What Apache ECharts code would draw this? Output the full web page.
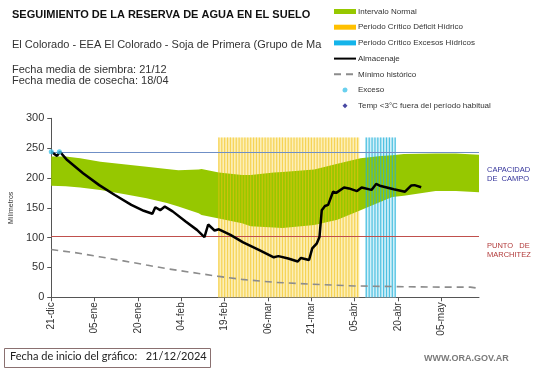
<!DOCTYPE html>
<html>
<head>
<meta charset="utf-8">
<script src="https://cdn.jsdelivr.net/npm/echarts@6/dist/echarts.min.js"></script>
<style>
html,body{margin:0;padding:0;background:#fff;}
#c{width:541px;height:368px;}
</style>
</head>
<body>
<div id="c"></div>
<script>
// ---- DATA ----
const tickDays = [0, 15, 30, 45, 60, 75, 90, 105, 120, 135];
const tickLabels = ['21-dic', '05-ene', '20-ene', '04-feb', '19-feb', '06-mar', '21-mar', '05-abr', '20-abr', '05-may'];
const lastDay = 148;

const bandDays  = [0, 5, 10, 17, 25, 33, 40, 44, 51, 52, 58, 66, 69, 77, 80, 91, 99, 107, 114, 118, 122, 133, 140, 148];
const bandLower = [187, 186, 184, 180, 173, 166, 158, 152, 141, 138, 132, 124, 119, 117, 116, 121, 130, 146, 160, 168, 170, 178, 178, 176];
const bandUpper = [236, 236, 233, 227, 223, 219, 215, 213, 214, 215, 209, 205, 205, 209, 210, 214, 224, 233, 237, 238, 240, 241, 241, 239];

const storageDays   = [0, 2, 3, 5.5, 11, 16.6, 22, 27.7, 32, 35, 36, 37.7, 39.3, 42, 46.5, 50.4, 53, 54.3, 56.5, 58, 62, 66.4, 72, 77, 78.6, 82, 85.3, 86.4, 89.2, 90.3, 91.9, 92.8, 93.6, 94.7, 95.8, 97.5, 98.6, 101.3, 103, 105.8, 107.4, 110.8, 112.4, 114, 118.5, 122.4, 124.6, 125.7, 128];
const storageValues = [244, 237, 244, 230, 208, 188, 171.5, 155, 145, 140, 151, 146, 152, 144, 127, 113, 101, 122, 112, 114, 104.5, 92, 79, 67, 69, 65, 60, 66, 62.5, 82, 90.5, 101, 146, 153, 155, 177, 175, 184, 182.5, 178, 184, 180, 190, 186.5, 181, 177, 187.5, 188, 184.5];

const minDays   = [0, 8, 16.6, 25, 33, 40, 44, 51, 58, 66, 77.5, 90, 105, 118.5, 135, 145, 148];
const minValues = [80, 75, 68, 61, 54, 48, 45, 40, 35, 30, 25, 22, 19, 18, 17, 17, 15];

const deficitDays = [58, 59, 60, 61, 62, 63, 64, 65, 66, 67, 68, 69, 70, 71, 72, 73, 74, 75, 76, 77, 78, 79, 80, 81, 82, 83, 84, 85, 86, 87, 88, 89, 90, 91, 92, 93, 94, 95, 96, 97, 98, 99, 100, 101, 102, 103, 104, 105, 106];
const excessPeriodDays = [109, 110, 111, 112, 113, 114, 115, 116, 117, 118, 119];
const stripeTop = 268;

const excessDays   = [0, 2.8];
const excessValues = [244, 244];
const coldDays = [];
const coldValues = [];

const fieldCapacity = 243;
const wiltingPoint = 103;

// ---- CHART ----
const FONT = 'Liberation Sans, Arial, sans-serif';
const GREEN = '#96c800';
const pair = (xs, ys) => xs.map((x, i) => [x, ys[i]]);

const chart = echarts.init(document.getElementById('c'), null, {renderer: 'canvas'});

const option = {
  animation: false,
  backgroundColor: '#ffffff',
  textStyle: {fontFamily: FONT},
  grid: {left: 33.3, top: 118.3, right: 62, bottom: 70.7, containLabel: false},
  legend: {
    orient: 'vertical',
    left: 333,
    top: 7,
    padding: 0,
    itemWidth: 22,
    itemHeight: 5,
    itemGap: 6.7,
    symbolKeepAspect: true,
    textStyle: {fontSize: 8, color: '#333', fontFamily: FONT, lineHeight: 9, padding: [0, 0, 0, -3]},
    data: [
      {name: 'Intervalo Normal', icon: 'rect', itemStyle: {color: GREEN, opacity: 1}},
      {name: 'Periodo Crítico Déficit Hídrico', icon: 'rect', itemStyle: {color: '#ffc000', opacity: 1}},
      {name: 'Periodo Crítico Excesos Hídricos', icon: 'rect', itemStyle: {color: '#14b4ea', opacity: 1}},
      {name: 'Almacenaje', itemStyle: {opacity: 0}},
      {name: 'Mínimo histórico', itemStyle: {opacity: 0}},
      {name: 'Exceso', icon: 'path://M2,0A2,2,0,1,1,1.99,0Z'},
      {name: 'Temp <3°C fuera del período habitual', icon: 'path://M5,0L10,5L5,10L0,5Z'}
    ]
  },
  xAxis: {
    type: 'value',
    min: 0,
    max: lastDay,
    interval: 15,
    splitLine: {show: false},
    axisLine: {lineStyle: {color: '#555', width: 1}},
    axisTick: {show: true, length: 4, lineStyle: {color: '#555'}, customValues: tickDays},
    axisLabel: {
      customValues: tickDays,
      rotate: 90,
      fontSize: 10,
      color: '#333',
      margin: 5,
      formatter: v => { const i = tickDays.indexOf(v); return i >= 0 ? tickLabels[i] : ''; }
    }
  },
  yAxis: {
    type: 'value',
    min: 0,
    max: 300,
    interval: 50,
    name: 'Milímetros',
    nameLocation: 'middle',
    nameGap: 21,
    nameTextStyle: {fontSize: 7, color: '#333'},
    splitLine: {show: false},
    axisLine: {show: true, lineStyle: {color: '#555', width: 1}},
    axisTick: {show: true, length: 4, lineStyle: {color: '#555'}},
    axisLabel: {fontSize: 11, color: '#333', margin: 7}
  },
  series: [
    {
      name: 'Intervalo Normal',
      type: 'custom',
      itemStyle: {color: GREEN},
      encode: {x: 0, y: [1, 2]},
      data: bandDays.map((d, i) => [d, bandLower[i], bandUpper[i]]),
      z: 2,
      renderItem: function (params, api) {
        if (params.dataIndex !== 0) return;
        const pts = [];
        for (let i = 0; i < bandDays.length; i++) pts.push(api.coord([bandDays[i], bandUpper[i]]));
        for (let i = bandDays.length - 1; i >= 0; i--) pts.push(api.coord([bandDays[i], bandLower[i]]));
        return {type: 'polygon', shape: {points: pts}, style: {fill: GREEN}};
      }
    },
    {
      name: 'Periodo Crítico Déficit Hídrico',
      type: 'bar',
      barWidth: 1.2,
      barGap: '-100%',
      itemStyle: {color: '#f2c010', opacity: 0.6},
      data: deficitDays.map(d => [d, stripeTop]),
      z: 3,
      markArea: {
        silent: true,
        z: 1,
        data: [
          [{coord: [deficitDays[0] - 0.3, 0], itemStyle: {color: '#fcefb8', opacity: 1}}, {coord: [deficitDays[deficitDays.length - 1] + 0.6, stripeTop]}],
          [{coord: [excessPeriodDays[0] - 0.4, 0], itemStyle: {color: '#d2f0f9', opacity: 1}}, {coord: [excessPeriodDays[excessPeriodDays.length - 1] + 0.3, stripeTop]}]
        ]
      }
    },
    {
      name: 'Periodo Crítico Excesos Hídricos',
      type: 'bar',
      barWidth: 1.2,
      barGap: '-100%',
      itemStyle: {color: '#22b0d8', opacity: 0.75},
      data: excessPeriodDays.map(d => [d, stripeTop]),
      z: 3
    },
    {
      name: 'Mínimo histórico',
      type: 'line',
      symbol: 'none',
      lineStyle: {color: '#8c8c8c', width: 1.6, type: [7, 5]},
      itemStyle: {color: '#8c8c8c'},
      data: pair(minDays, minValues),
      z: 4
    },
    {
      name: 'Almacenaje',
      type: 'line',
      symbol: 'none',
      lineStyle: {color: '#000', width: 2.5},
      itemStyle: {color: '#000'},
      data: pair(storageDays, storageValues),
      z: 6,
      markLine: {
        silent: true,
        symbol: 'none',
        z: 5,
        label: {show: false},
        data: [
          {yAxis: fieldCapacity, lineStyle: {color: '#6f8fc6', width: 1.2, type: 'solid'}},
          {yAxis: wiltingPoint, lineStyle: {color: '#c0504d', width: 1.2, type: 'solid'}}
        ]
      }
    },
    {
      name: 'Exceso',
      type: 'scatter',
      symbol: 'circle',
      symbolSize: 5,
      itemStyle: {color: '#44c4ea'},
      data: pair(excessDays, excessValues),
      z: 7
    },
    {
      name: 'Temp <3°C fuera del período habitual',
      type: 'scatter',
      symbol: 'diamond',
      symbolSize: 6,
      itemStyle: {color: '#1a1a8c'},
      data: pair(coldDays, coldValues),
      z: 7
    }
  ],
  graphic: [
    {type: 'text', left: 12, top: 9, style: {text: 'SEGUIMIENTO DE LA RESERVA DE AGUA EN EL SUELO', font: 'bold 11px ' + FONT, fill: '#111'}},
    {type: 'text', left: 12, top: 39, style: {text: 'El Colorado - EEA El Colorado - Soja de Primera (Grupo de Madurez V)', font: '11px ' + FONT, fill: '#333', width: 314, overflow: 'truncate', ellipsis: ''}},
    {type: 'text', left: 12, top: 64, style: {text: 'Fecha media de siembra: 21/12', font: '11px ' + FONT, fill: '#333'}},
    {type: 'text', left: 12, top: 75, style: {text: 'Fecha media de cosecha: 18/04', font: '11px ' + FONT, fill: '#333'}},
    {type: 'text', left: 487, top: 166, style: {text: 'CAPACIDAD\nDE  CAMPO', font: '7.5px ' + FONT, fill: '#33339a', lineHeight: 8.5}},
    {type: 'text', left: 487, top: 242, style: {text: 'PUNTO   DE\nMARCHITEZ', font: '7.5px ' + FONT, fill: '#b23a3a', lineHeight: 8.5}},
    {type: 'rect', left: 4, top: 348, shape: {width: 206, height: 19}, style: {fill: '#fff', stroke: '#8a7070', lineWidth: 1}},
    {type: 'text', left: 10, top: 351, style: {text: 'Fecha de inicio del gráfico:   21/12/2024', font: '11px Lato, ' + FONT, fill: '#222'}},
    {type: 'text', left: 424, top: 354, style: {text: 'WWW.ORA.GOV.AR', font: 'bold 9px ' + FONT, fill: '#7a7a7a'}}
  ]
};
chart.setOption(option);
</script>
</body>
</html>
